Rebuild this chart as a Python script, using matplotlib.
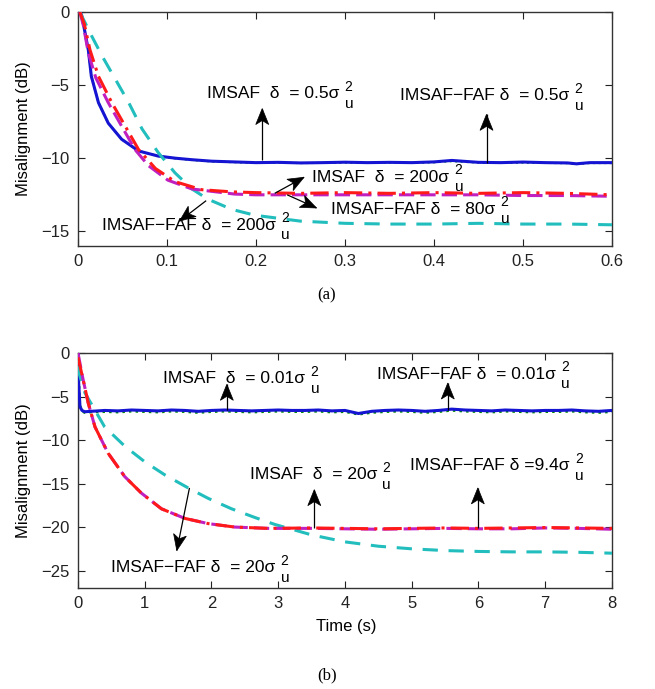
import matplotlib
matplotlib.use("Agg")
import matplotlib.pyplot as plt
from matplotlib.patches import Polygon
from matplotlib.transforms import IdentityTransform
import numpy as np

plt.rcParams['font.family'] = ['Liberation Sans', 'DejaVu Sans']

# ---------------- (a) data ----------------
a_blue_x = [0.002, 0.004, 0.006, 0.0116, 0.015, 0.023, 0.034, 0.049, 0.068, 0.09, 0.11, 0.128, 0.15,
            0.175, 0.2, 0.225, 0.25, 0.275, 0.3, 0.325, 0.35, 0.375, 0.4, 0.42, 0.45, 0.475, 0.5,
            0.525, 0.55, 0.56, 0.575, 0.6]
a_blue_y = [0, -0.2, -0.8, -2.6, -4.4, -6.2, -7.6, -8.7, -9.5, -9.85, -10.0, -10.1, -10.2,
            -10.25, -10.3, -10.28, -10.32, -10.3, -10.27, -10.3, -10.28, -10.3, -10.25, -10.15, -10.28,
            -10.3, -10.26, -10.3, -10.32, -10.38, -10.3, -10.3]
a_green_y = [0, -0.2, -0.8, -2.6, -4.4, -6.2, -7.6, -8.7, -9.5, -9.85, -10.02, -10.12, -10.22,
             -10.27, -10.32, -10.3, -10.33, -10.32, -10.3, -10.32, -10.3, -10.32, -10.28, -10.2, -10.3,
             -10.32, -10.3, -10.32, -10.34, -10.4, -10.33, -10.33]

a_red_x = [0.002, 0.007, 0.0135, 0.023, 0.038, 0.053, 0.068, 0.087, 0.109, 0.139, 0.173, 0.2, 0.25,
           0.3, 0.35, 0.4, 0.45, 0.5, 0.55, 0.6]
a_red_y = [0, -0.8, -2.6, -4.4, -6.2, -7.8, -9.4, -10.7, -11.6, -12.15, -12.3, -12.35, -12.4,
           -12.35, -12.4, -12.35, -12.4, -12.35, -12.4, -12.5]

a_mag_x = [0.002, 0.006, 0.0116, 0.02, 0.034, 0.049, 0.064, 0.079, 0.101, 0.128, 0.176, 0.2, 0.25,
           0.3, 0.35, 0.4, 0.45, 0.5, 0.55, 0.6]
a_mag_y = [0, -0.9, -2.8, -4.5, -6.2, -7.8, -9.4, -10.5, -11.5, -12.1, -12.45, -12.5, -12.5,
           -12.5, -12.5, -12.5, -12.5, -12.55, -12.55, -12.6]

a_cyan_x = [0.002, 0.015, 0.027, 0.042, 0.057, 0.072, 0.090, 0.109, 0.128, 0.146, 0.173, 0.199, 0.25,
            0.3, 0.35, 0.4, 0.45, 0.5, 0.55, 0.6]
a_cyan_y = [0, -1.6, -3.0, -4.6, -6.2, -8.0, -9.6, -11.0, -12.1, -12.8, -13.5, -13.9, -14.3,
            -14.45, -14.5, -14.5, -14.45, -14.5, -14.5, -14.55]

# ---------------- (b) data ----------------
b_blue_x = [0, 0.01, 0.03, 0.06, 0.1, 0.2, 0.4, 0.6, 0.8, 1.0, 1.2, 1.4, 1.6, 1.8, 2.0, 2.2, 2.4, 2.6,
            2.8, 3.0, 3.2, 3.4, 3.6, 3.8, 4.0, 4.2, 4.4, 4.6, 4.8, 5.0, 5.2, 5.4, 5.6, 5.8, 6.0,
            6.2, 6.4, 6.6, 6.8, 7.0, 7.2, 7.4, 7.6, 7.8, 8.0]
b_blue_y = [0, -3.4, -6.2, -6.6, -6.75, -6.7, -6.6, -6.65, -6.55, -6.6, -6.65, -6.55, -6.6, -6.7,
            -6.6, -6.55, -6.6, -6.65, -6.6, -6.55, -6.6, -6.6, -6.55, -6.65, -6.6, -6.95, -6.7,
            -6.6, -6.55, -6.6, -6.7, -6.6, -6.45, -6.55, -6.6, -6.65, -6.55, -6.6, -6.65, -6.6,
            -6.6, -6.55, -6.65, -6.7, -6.6]
b_green_y = [0, -3.0, -6.0, -6.7, -6.85, -6.8, -6.75, -6.8, -6.7, -6.75, -6.8, -6.7, -6.75, -6.85,
             -6.75, -6.7, -6.75, -6.8, -6.75, -6.7, -6.75, -6.75, -6.7, -6.8, -6.75, -7.05, -6.85,
             -6.75, -6.7, -6.75, -6.85, -6.75, -6.6, -6.7, -6.75, -6.8, -6.7, -6.75, -6.8, -6.75,
             -6.75, -6.7, -6.8, -6.85, -6.75]

b_red_x = [0, 0.075, 0.155, 0.255, 0.45, 0.70, 0.95, 1.25, 1.60, 1.95, 2.35, 2.85, 3.5, 4.0, 4.5,
           5.0, 5.5, 6.0, 6.5, 7.0, 7.5, 8.0]
b_red_y = [-0.5, -3.0, -5.8, -8.5, -11.5, -14.2, -16.1, -17.9, -19.0, -19.6, -20.0, -20.15, -20.1,
           -20.15, -20.2, -20.15, -20.1, -20.15, -20.1, -20.05, -20.1, -20.15]
b_mag_y = [0, -3.0, -5.8, -8.5, -11.5, -14.2, -16.1, -17.9, -19.0, -19.6, -20.0, -20.15, -20.15,
           -20.2, -20.25, -20.2, -20.15, -20.2, -20.2, -20.1, -20.15, -20.25]

b_cyan_x = [0, 0.015, 0.105, 0.40, 0.70, 1.0, 1.30, 1.65, 1.95, 2.3, 2.65, 2.95, 3.25, 3.5, 4.0, 4.5,
            5.0, 5.5, 6.0, 6.5, 7.0, 7.5, 8.0]
b_cyan_y = [-1.5, -2.3, -4.6, -8.5, -10.7, -12.5, -14.0, -15.5, -16.7, -17.9, -18.9, -19.7, -20.35,
            -20.9, -21.7, -22.2, -22.5, -22.7, -22.8, -22.85, -22.85, -22.9, -23.0]

a_xticks = [0, 0.1, 0.2, 0.3, 0.4, 0.5, 0.6]
a_yticks = [0, -5, -10, -15]
b_xticks = [0, 1, 2, 3, 4, 5, 6, 7, 8]
b_yticks = [0, -5, -10, -15, -20, -25]

BLUE = '#1414d2'
GREEN = '#008a00'
RED = '#ff1a1a'
MAG = '#c020c0'
CYAN = '#22bdbd'

W, H = 655, 689
fig = plt.figure(figsize=(W / 100, H / 100), dpi=100)
renderer = fig.canvas.get_renderer()


def axrect(l, t, r, b):
    return [l / W, 1 - b / H, (r - l) / W, (b - t) / H]


ax1 = fig.add_axes(axrect(78, 12, 612, 246))
ax2 = fig.add_axes(axrect(78, 353, 612, 588))


def style(ax, xt, yt, xl, yl):
    ax.set_xlim(*xl)
    ax.set_ylim(*yl)
    ax.set_xticks(xt)
    ax.set_yticks(yt)
    ax.set_xticklabels([f"{v:g}" for v in xt])
    ax.set_yticklabels([f"{v:g}".replace('-', '\u2212') for v in yt])
    ax.tick_params(direction='in', top=True, right=True, length=5, width=0.8,
                   labelsize=12, pad=6, colors='#222222')
    for s in ax.spines.values():
        s.set_linewidth(1.0)
        s.set_color('#333333')
    ax.set_ylabel('Misalignment (dB)', fontsize=12)
    ax.yaxis.set_label_coords(-0.088, 0.5)


def arrow(ax, x0, y0, x1, y1, L=16.0, hw=6.5, notch=4.0):
    ax.plot([x0, x1], [y0, y1], color='black', lw=0.9, zorder=6, solid_capstyle='butt')
    p0 = np.array(ax.transData.transform((x0, y0)))
    p1 = np.array(ax.transData.transform((x1, y1)))
    d = p1 - p0
    u = d / np.hypot(*d)
    n = np.array([-u[1], u[0]])
    back = p1 - L * u
    pts = [p1, back + hw * n, p1 - (L - notch) * u, back - hw * n]
    ax.add_patch(Polygon(pts, closed=True, transform=IdentityTransform(),
                         facecolor='black', edgecolor='black', lw=0.5, zorder=7))


FS = 12.5


def label(ax, x, y, main):
    t = ax.text(x, y, main, fontsize=FS, va='baseline', ha='left', zorder=8)
    bb = t.get_window_extent(renderer=renderer)
    px, py = ax.transData.transform((x, y))
    xs = bb.x1 + 5
    ax.text(xs, py + 7.5, '2', fontsize=10, va='baseline', ha='left',
            transform=IdentityTransform(), clip_on=True, zorder=8)
    ax.text(xs + 0.5, py - 9.5, 'u', fontsize=11, va='baseline', ha='left',
            transform=IdentityTransform(), clip_on=True, zorder=8)


# ---- (a)
style(ax1, a_xticks, a_yticks, (0, 0.6), (-16, 0))
ax1.plot(a_blue_x, a_green_y, color=GREEN, lw=1.5, ls=':', zorder=2)
ax1.plot(a_blue_x, a_blue_y, color=BLUE, lw=2.2, ls='-', zorder=3)
ax1.plot(a_cyan_x, a_cyan_y, color=CYAN, lw=2.2, ls=(0, (5, 3.5)), zorder=3)
ax1.plot(a_mag_x, a_mag_y, color=MAG, lw=2.2, ls=(0, (5, 2)), zorder=4)
ax1.plot(a_red_x, a_red_y, color=RED, lw=2.2, ls=(0, (6, 2, 1, 2)), zorder=5)

label(ax1, 0.145, -5.9, 'IMSAF  δ  = 0.5σ')
label(ax1, 0.362, -6.05, 'IMSAF\u2212FAF δ  = 0.5σ')
label(ax1, 0.263, -11.6, 'IMSAF  δ  = 200σ')
label(ax1, 0.284, -13.8, 'IMSAF\u2212FAF δ  = 80σ')
label(ax1, 0.027, -14.9, 'IMSAF\u2212FAF δ  = 200σ')
arrow(ax1, 0.207, -10.1, 0.207, -6.6)
arrow(ax1, 0.459, -10.3, 0.459, -7.0)
arrow(ax1, 0.221, -12.4, 0.254, -11.3)
arrow(ax1, 0.235, -12.5, 0.268, -13.4)
arrow(ax1, 0.144, -12.9, 0.114, -14.3)

# ---- (b)
style(ax2, b_xticks, b_yticks, (0, 8), (-27, 0))
ax2.plot(b_blue_x, b_green_y, color=GREEN, lw=1.8, ls=':', zorder=2)
ax2.plot(b_blue_x, b_blue_y, color=BLUE, lw=2.2, ls='-', zorder=3)
ax2.plot(b_cyan_x, b_cyan_y, color=CYAN, lw=2.2, ls=(0, (5, 3.5)), zorder=3)
ax2.plot(b_red_x, b_mag_y, color=MAG, lw=2.2, ls=(0, (5, 2)), zorder=4)
ax2.plot(b_red_x, b_red_y, color=RED, lw=2.2, ls=(0, (6, 2, 1, 2)), zorder=5)

label(ax2, 1.28, -3.45, 'IMSAF  δ  = 0.01σ')
label(ax2, 4.48, -2.95, 'IMSAF\u2212FAF δ  = 0.01σ')
label(ax2, 2.57, -14.5, 'IMSAF  δ  = 20σ')
label(ax2, 4.98, -13.5, 'IMSAF\u2212FAF δ =9.4σ')
label(ax2, 0.50, -25.2, 'IMSAF\u2212FAF δ  = 20σ')
arrow(ax2, 2.23, -6.6, 2.23, -3.6)
arrow(ax2, 5.54, -6.6, 5.54, -3.45)
arrow(ax2, 3.54, -20.1, 3.54, -15.7)
arrow(ax2, 5.99, -20.1, 5.99, -15.5)
arrow(ax2, 1.67, -15.5, 1.48, -22.7)

fig.text(346 / W, 1 - 627 / H, 'Time (s)', ha='center', va='center', fontsize=12)
fig.text(327 / W, 1 - 295 / H, '(a)', ha='center', va='center', fontsize=12, family='Liberation Serif')
fig.text(327 / W, 1 - 675 / H, '(b)', ha='center', va='center', fontsize=12, family='Liberation Serif')

fig.savefig('out.png', dpi=100, facecolor='white')
